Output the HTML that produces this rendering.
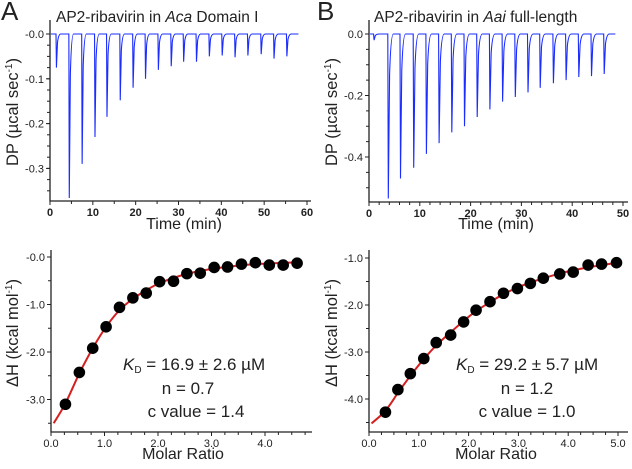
<!DOCTYPE html>
<html><head><meta charset="utf-8"><style>
body{margin:0;background:#fff;width:632px;height:464px;overflow:hidden}
svg{font-family:"Liberation Sans",Arial,sans-serif}
</style></head><body>
<svg id="fig" width="632" height="464" viewBox="0 0 632 464"></svg>
<script>
// Panel A raw data: injection times (min) and peak DP (µcal/s)
const aInjTimes=[1.5,4.5,7.5,10.5,13.3,16.4,19.4,22.3,25.3,28.3,31.2,34.2,37.2,40.2,43.2,46.2,49.3,52.3,55.3];
const aInjPeaks=[-0.075,-0.366,-0.29,-0.23,-0.185,-0.148,-0.12,-0.1,-0.08,-0.072,-0.062,-0.062,-0.05,-0.048,-0.052,-0.048,-0.045,-0.055,-0.05];
// Panel B raw data
const bInjTimes=[1.0,3.8,6.2,8.8,11.3,13.8,16.3,18.8,21.3,23.8,26.3,28.8,31.3,33.7,36.3,38.8,41.3,43.8,46.3];
const bInjPeaks=[-0.02,-0.535,-0.47,-0.435,-0.39,-0.355,-0.32,-0.3,-0.27,-0.245,-0.22,-0.205,-0.19,-0.175,-0.16,-0.15,-0.14,-0.137,-0.13];
// Panel A isotherm
const aRatio=[0.27,0.53,0.78,1.03,1.28,1.53,1.78,2.03,2.29,2.54,2.79,3.05,3.3,3.56,3.82,4.08,4.34,4.6];
const aDH=[-3.1,-2.43,-1.92,-1.47,-1.06,-0.86,-0.76,-0.52,-0.51,-0.35,-0.34,-0.22,-0.21,-0.15,-0.12,-0.17,-0.17,-0.13];
const aFitX=[0.05,0.27,0.53,0.78,1.03,1.28,1.53,1.78,2.03,2.4,2.8,3.2,3.6,4.0,4.4,4.7];
const aFitY=[-3.5,-3.08,-2.45,-1.92,-1.47,-1.12,-0.88,-0.7,-0.55,-0.4,-0.29,-0.22,-0.17,-0.14,-0.12,-0.11];
// Panel B isotherm
const bRatio=[0.33,0.58,0.83,1.1,1.35,1.64,1.9,2.15,2.43,2.7,2.98,3.24,3.5,3.83,4.1,4.4,4.67,4.97];
const bDH=[-4.28,-3.8,-3.46,-3.14,-2.8,-2.64,-2.36,-2.11,-1.93,-1.75,-1.65,-1.54,-1.43,-1.34,-1.3,-1.15,-1.13,-1.1];
const bFitX=[0.05,0.33,0.6,0.85,1.1,1.35,1.64,1.9,2.15,2.43,2.7,3.0,3.3,3.6,3.9,4.2,4.5,4.8,5.0];
const bFitY=[-4.52,-4.25,-3.84,-3.48,-3.15,-2.86,-2.58,-2.34,-2.13,-1.94,-1.77,-1.62,-1.5,-1.4,-1.31,-1.24,-1.18,-1.13,-1.1];
const aXTicks=["0","10","20","30","40","50","60"];
const aYTicks=["-0.0","-0.1","-0.2","-0.3"];
const bXTicks=["0","10","20","30","40","50"];
const bYTicks=["0.0","-0.2","-0.4"];
const cXTicks=["0.0","1.0","2.0","3.0","4.0"];
const cYTicks=["-0.0","-1.0","-2.0","-3.0"];
const dXTicks=["0.0","1.0","2.0","3.0","4.0","5.0"];
const dYTicks=["-1.0","-2.0","-3.0","-4.0"];

const NS="http://www.w3.org/2000/svg";
const svg=document.getElementById('fig');
function el(tag,attrs,parent,txt){const e=document.createElementNS(NS,tag);for(const k in attrs)e.setAttribute(k,attrs[k]);if(txt!==undefined)e.textContent=txt;(parent||svg).appendChild(e);return e;}
function lin(d0,d1,r0,r1){return v=>r0+(v-d0)*(r1-r0)/(d1-d0);}

function axes(g,x,y,x0,x1,yTop,yBot,xVals,xLab,xMinor,yVals,yLab,yMinor){
  const ax=el('path',{d:`M${x0},${yTop}V${yBot}H${x1}`,stroke:'#222','stroke-width':1.3,fill:'none'},g);
  
  const bold=(xLab===aXTicks||xLab===bXTicks);
  xVals.forEach((v,i)=>{const px=x(v);el('line',{x1:px,x2:px,y1:yBot,y2:yBot+4,stroke:'#222'},g);
    const t=el('text',{x:px,y:yBot+15,'font-size':11,'text-anchor':'middle',fill:'#222','font-weight':bold?'bold':'normal'},g,xLab[i]);
    });
  xMinor.forEach(v=>{const px=x(v);el('line',{x1:px,x2:px,y1:yBot,y2:yBot+3,stroke:'#222'},g);});
  yVals.forEach((v,i)=>{const py=y(v);el('line',{x1:x0-4,x2:x0,y1:py,y2:py,stroke:'#222'},g);
    const t=el('text',{x:x0-6,y:py+4,'font-size':11,'text-anchor':'end',fill:'#222'},g,yLab[i]);
    });
  yMinor.forEach(v=>{const py=y(v);if(py>=yTop&&py<=yBot)el('line',{x1:x0-3,x2:x0,y1:py,y2:py,stroke:'#222'},g);});
}
function range(a,b,s){const r=[];for(let v=a;v<=b+1e-9;v+=s)r.push(+v.toFixed(4));return r;}

function thermogram(name,times,peaks,x,y,tEnd){
  let d=`M${x(0.2)},${y(0)}`;
  times.forEach((t,i)=>{d+=`H${x(t-0.1)}L${x(t)},${y(peaks[i])}L${x(t+0.25)},${y(peaks[i]*0.25)}Q${x(t+0.5)},${y(0)} ${x(t+1)},${y(0)}`;});
  d+=`H${x(tEnd)}`;
  const p=el('path',{d,stroke:'#1a2cff','stroke-width':1.1,fill:'none'});
  
}
function spline(xs,ys,x,y){
  const P=xs.map((v,i)=>[x(v),y(ys[i])]);let d=`M${P[0][0]},${P[0][1]}`;
  for(let i=0;i<P.length-1;i++){const p0=P[Math.max(0,i-1)],p1=P[i],p2=P[i+1],p3=P[Math.min(P.length-1,i+2)];
    d+=`C${p1[0]+(p2[0]-p0[0])/6},${p1[1]+(p2[1]-p0[1])/6} ${p2[0]-(p3[0]-p1[0])/6},${p2[1]-(p3[1]-p1[1])/6} ${p2[0]},${p2[1]}`;}
  return d;
}
function isotherm(prefix,xs,ys,fx,fy,x,y){
  const f=el('path',{d:spline(fx,fy,x,y),stroke:'#d42020','stroke-width':2,fill:'none'});
  
  xs.forEach((v,i)=>{const c=el('circle',{cx:x(v),cy:y(ys[i]),r:5.8,fill:'#000'});
    });
}
function txt(name,x,y,size,s,anchor,rot){const a={x,y,'font-size':size,fill:'#222'};if(anchor)a['text-anchor']=anchor;if(rot)a.transform=`rotate(-90 ${x} ${y})`;const t=el('text',a,svg);t.innerHTML=s;return t;}

// Panel A top
{const x=lin(0,60,50,307),y=lin(0,-0.1,34,78.8);
 axes(svg,x,y,50,311,20,201,[0,10,20,30,40,50,60],aXTicks,range(5,55,10),[0,-0.1,-0.2,-0.3],aYTicks,range(-0.375,0,0.025));
 thermogram('thermogram-a',aInjTimes,aInjPeaks,x,y,58);}
// Panel B top
{const x=lin(0,50,369,623),y=lin(0,-0.2,34,95.5);
 axes(svg,x,y,369,628,20,202,[0,10,20,30,40,50],bXTicks,range(2,48,2).filter(v=>v%10),[0,-0.2,-0.4],bYTicks,range(-0.55,0,0.05));
 thermogram('thermogram-b',bInjTimes,bInjPeaks,x,y,48.5);}
// Panel A bottom
{const x=lin(0,4,51,265),y=lin(0,-1,257,304.5);
 axes(svg,x,y,51,312,250,432,[0,1,2,3,4],cXTicks,range(0.25,4.75,0.25).filter(v=>v%1),[0,-1,-2,-3],cYTicks,range(-3.5,0,0.5));
 isotherm('isotherm-a',aRatio,aDH,aFitX,aFitY,x,y);}
// Panel B bottom
{const x=lin(0,5,369,618),y=lin(-1,-2,258,305);
 axes(svg,x,y,369,628,250,432,[0,1,2,3,4,5],dXTicks,range(0.25,4.75,0.25).filter(v=>v%1),[-1,-2,-3,-4],dYTicks,range(-4.5,-1,0.5));
 isotherm('isotherm-b',bRatio,bDH,bFitX,bFitY,x,y);}

txt('panel-label-a',1,20,26,'A');
txt('panel-label-b',317,20,26,'B');
txt('title-a',56,22,15.5,'AP2-ribavirin in <tspan font-style="italic">Aca</tspan> Domain I');
txt('title-b',374,22,15.5,'AP2-ribavirin in <tspan font-style="italic">Aai</tspan> full-length');
txt('x-title-a-top',184,229,16,'Time (min)','middle');
txt('x-title-b-top',496,229,16,'Time (min)','middle');
txt('x-title-a-bottom',183,459,16,'Molar Ratio','middle');
txt('x-title-b-bottom',496,459,16,'Molar Ratio','middle');
txt('y-title-a-top',18,112,16.5,'DP (µcal sec<tspan dy="-6" font-size="10">-1</tspan><tspan dy="6">)</tspan>','middle',true);
txt('y-title-b-top',337,112,16.5,'DP (µcal sec<tspan dy="-6" font-size="10">-1</tspan><tspan dy="6">)</tspan>','middle',true);
txt('y-title-a-bottom',18,333,16.5,'ΔH (kcal mol<tspan dy="-6" font-size="10">-1</tspan><tspan dy="6">)</tspan>','middle',true);
txt('y-title-b-bottom',337,333,16.5,'ΔH (kcal mol<tspan dy="-6" font-size="10">-1</tspan><tspan dy="6">)</tspan>','middle',true);
txt('kd-a',123,370,17,'<tspan font-style="italic">K</tspan><tspan font-size="10" dy="3">D</tspan><tspan dy="-3">  = 16.9 ± 2.6 µM</tspan>');
txt('n-a',188,394,17,'n =  0.7','middle');
txt('c-a',196,417,17,'c value = 1.4','middle');
txt('kd-b',456,370,17,'<tspan font-style="italic">K</tspan><tspan font-size="10" dy="3">D</tspan><tspan dy="-3">  = 29.2 ± 5.7 µM</tspan>');
txt('n-b',527,394,17,'n =  1.2','middle');
txt('c-b',527,417,17,'c value = 1.0','middle');
</script>
</body></html>
